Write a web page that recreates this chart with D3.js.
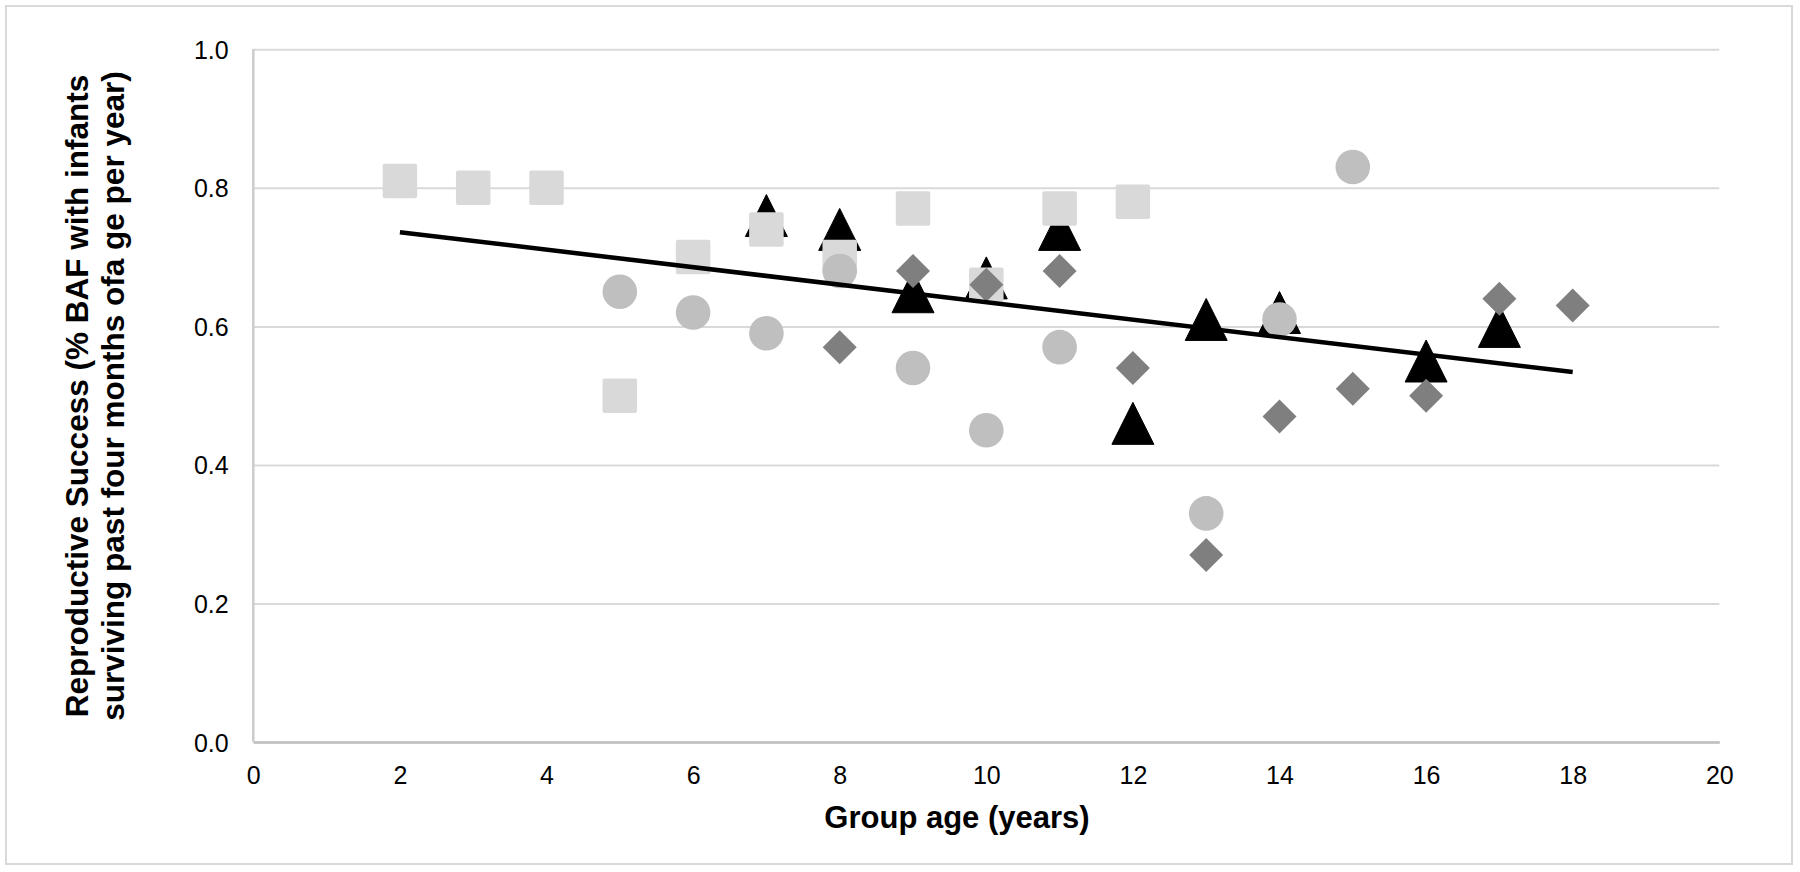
<!DOCTYPE html>
<html>
<head>
<meta charset="utf-8">
<script src="https://cdn.jsdelivr.net/npm/d3@7"></script>
<style>
  html, body { margin: 0; padding: 0; background: #ffffff; }
  svg { display: block; }
  text { font-family: "Liberation Sans", Arial, sans-serif; fill: #000; }
</style>
</head>
<body>
<svg id="chart" width="1800" height="872"></svg>
<script>
// ---- data ----
const xTicks = [0, 2, 4, 6, 8, 10, 12, 14, 16, 18, 20];
const yTicks = [0, 0.2, 0.4, 0.6, 0.8, 1.0];

const squareX = [2, 3, 4, 5, 6, 7, 8, 9, 10, 11, 12];
const squareY = [0.81, 0.80, 0.80, 0.50, 0.70, 0.74, 0.70, 0.77, 0.66, 0.77, 0.78];

const circleX = [5, 6, 7, 8, 9, 10, 11, 13, 14, 15];
const circleY = [0.65, 0.62, 0.59, 0.68, 0.54, 0.45, 0.57, 0.33, 0.61, 0.83];

const diamondX = [8, 9, 10, 11, 12, 13, 14, 15, 16, 17, 18];
const diamondY = [0.57, 0.68, 0.66, 0.68, 0.54, 0.27, 0.47, 0.51, 0.50, 0.64, 0.63];

const triangleX = [7, 8, 9, 10, 11, 12, 13, 14, 16, 17];
const triangleY = [0.76, 0.74, 0.65, 0.67, 0.74, 0.46, 0.61, 0.62, 0.55, 0.60];

const trendX = [2, 18];
const trendY = [0.736, 0.534];

const xTitle = "Group age (years)";
const yTitleLines = ["Reproductive Success (% BAF with infants", "surviving past four months ofa ge per year)"];

// ---- layout ----
const svg = d3.select("#chart");
const x = d3.scaleLinear().domain([0, 20]).range([253.3, 1719.3]);
const y = d3.scaleLinear().domain([0, 1]).range([742, 49.3]);
const zip = (xs, ys) => xs.map((v, i) => ({x: v, y: ys[i]}));

// outer border
svg.append("rect")
  .attr("x", 6).attr("y", 6).attr("width", 1786).attr("height", 858)
  .attr("fill", "#fff").attr("stroke", "#d9d9d9").attr("stroke-width", 2);

// y axis with gridlines
const gy = svg.append("g")
  .attr("transform", `translate(${x(0)},0)`)
  .call(d3.axisLeft(y).tickValues(yTicks).tickFormat(d3.format(".1f"))
        .tickSize(-(x(20) - x(0))).tickPadding(24.6));
gy.select(".domain").remove();
gy.selectAll(".tick line").attr("stroke", "#d9d9d9").attr("stroke-width", 2);
gy.selectAll(".tick text")
  .attr("dy", "0.36em")
  .style("font-family", "'Liberation Sans', Arial, sans-serif")
  .style("font-size", "25px").attr("fill", "#000");

// x axis
const gx = svg.append("g")
  .attr("transform", `translate(0,${y(0)})`)
  .call(d3.axisBottom(x).tickValues(xTicks).tickFormat(d3.format("d"))
        .tickSize(0).tickPadding(24.3));
gx.select(".domain").attr("stroke", "#bfbfbf").attr("stroke-width", 2.5);
gx.selectAll(".tick text")
  .style("font-family", "'Liberation Sans', Arial, sans-serif")
  .style("font-size", "25px").attr("fill", "#000");

// y axis line
svg.append("line")
  .attr("x1", x(0)).attr("x2", x(0)).attr("y1", y(1)).attr("y2", y(0))
  .attr("stroke", "#cccccc").attr("stroke-width", 2.5);

// ---- markers ----
const plot = svg.append("g");

// triangles (bottom layer)
const tw = 42, th = 42;
plot.selectAll("path.tri").data(zip(triangleX, triangleY)).join("path")
  .attr("class", "tri")
  .attr("d", d => {
    const cx = x(d.x), cy = y(d.y);
    return `M${cx},${cy - th/2} L${cx + tw/2},${cy + th/2} L${cx - tw/2},${cy + th/2} Z`;
  })
  .attr("fill", "#000").attr("stroke", "#000").attr("stroke-width", 1)
  .attr("stroke-linejoin", "round");

// squares
const sq = 34.5;
plot.selectAll("rect.sq").data(zip(squareX, squareY)).join("rect")
  .attr("class", "sq")
  .attr("x", d => x(d.x) - sq/2).attr("y", d => y(d.y) - sq/2)
  .attr("width", sq).attr("height", sq).attr("rx", 2)
  .attr("fill", "#d9d9d9");

// circles
plot.selectAll("circle.c").data(zip(circleX, circleY)).join("circle")
  .attr("class", "c")
  .attr("cx", d => x(d.x)).attr("cy", d => y(d.y)).attr("r", 17.3)
  .attr("fill", "#bfbfbf");

// diamonds
const dh = 17;
plot.selectAll("path.dia").data(zip(diamondX, diamondY)).join("path")
  .attr("class", "dia")
  .attr("d", d => {
    const cx = x(d.x), cy = y(d.y);
    return `M${cx},${cy - dh} L${cx + dh},${cy} L${cx},${cy + dh} L${cx - dh},${cy} Z`;
  })
  .attr("fill", "#7f7f7f");

// trendline
plot.append("path")
  .datum(zip(trendX, trendY))
  .attr("d", d3.line().x(d => x(d.x)).y(d => y(d.y)))
  .attr("stroke", "#000").attr("stroke-width", 4.5).attr("fill", "none");

// ---- titles ----
svg.append("text")
  .attr("x", 957).attr("y", 828)
  .attr("text-anchor", "middle")
  .style("font-size", "31px").style("font-weight", "bold")
  .text(xTitle);

const yTitleX = [88, 124];
yTitleLines.forEach((t, i) => {
  svg.append("text")
    .attr("transform", `translate(${yTitleX[i]},396) rotate(-90)`)
    .attr("text-anchor", "middle")
    .style("font-size", "31.5px").style("font-weight", "bold")
    .text(t);
});
</script>
</body>
</html>
